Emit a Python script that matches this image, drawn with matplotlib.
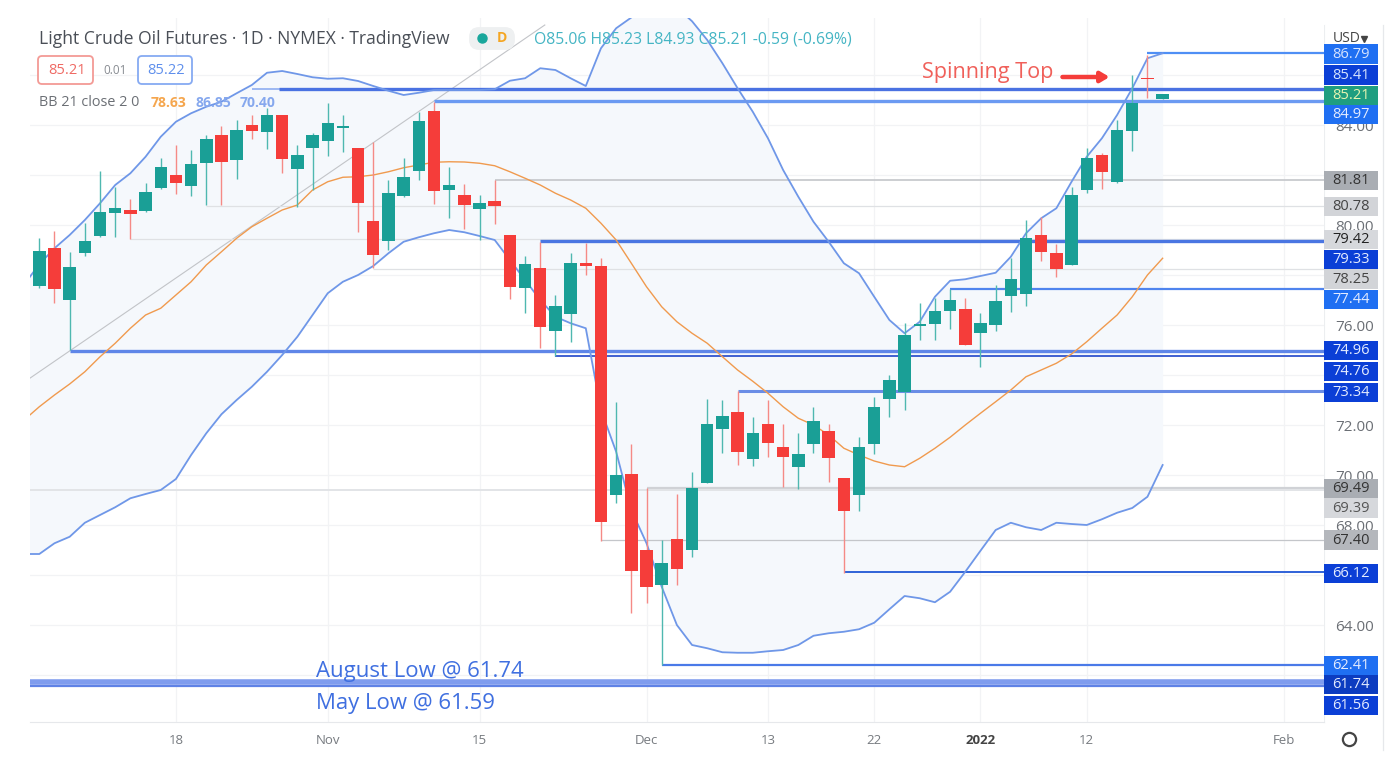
import matplotlib
matplotlib.use("Agg")
import matplotlib.pyplot as plt
from matplotlib.lines import Line2D
from matplotlib.patches import FancyBboxPatch
from matplotlib.transforms import Affine2D

plt.rcParams['font.family'] = ['Open Sans', 'DejaVu Sans']

# candles, one value per session. first one is cut off by the left edge
opens = [75.87, 77.56, 79.07, 77.0, 78.87, 79.57, 80.49, 80.6, 80.57, 81.47, 82.0, 81.57, 82.47, 83.6, 82.61, 84.01, 83.72,
         84.41, 82.25, 83.09, 83.36, 83.87, 83.07, 80.17, 79.36, 81.15, 82.17, 84.56, 81.39, 81.21, 80.65, 80.95,
         79.61, 77.49, 78.27, 75.75, 76.44, 78.47, 78.36, 69.2, 70.03, 66.99, 65.6, 67.45, 67.0,
         69.69, 71.84, 72.51, 70.65, 72.04, 71.11, 70.32, 71.24, 71.76, 69.88, 69.2, 71.24, 73.03, 73.33, 75.96, 76.04,
         76.57, 76.63, 75.67, 76.01, 77.16, 77.23, 79.6, 78.87, 78.41, 81.4, 82.8, 81.72, 83.77, 85.88, 85.03]
closes = [77.6, 78.96, 77.43, 78.33, 79.36, 80.51, 80.67, 80.43, 81.33, 82.31, 81.68, 82.45, 83.45, 82.51, 83.79, 83.77, 84.4,
          82.65, 82.81, 83.6, 84.07, 83.95, 80.89, 78.79, 81.29, 81.92, 84.16, 81.36, 81.59, 80.8, 80.88, 80.76,
          77.53, 78.43, 75.93, 76.76, 78.49, 78.37, 68.13, 70.0, 66.16, 65.53, 66.49, 66.23, 69.47,
          72.04, 72.37, 70.92, 71.67, 71.29, 70.72, 70.85, 72.15, 70.69, 68.57, 71.11, 72.73, 73.8, 75.6, 76.04, 76.57,
          76.99, 75.19, 76.07, 76.97, 77.83, 79.47, 78.91, 78.24, 81.2, 82.67, 82.13, 83.8, 84.87, 85.83, 85.23]
highs = [77.6, 79.47, 79.77, 78.93, 80.07, 82.16, 81.53, 81.03, 81.67, 82.67, 83.2, 83.0, 83.6, 83.96, 84.2, 84.4, 84.67,
         84.41, 83.21, 83.67, 84.89, 84.4, 83.07, 83.33, 81.8, 82.67, 84.53, 84.93, 82.31, 81.63, 81.2, 81.8,
         79.61, 78.77, 79.33, 77.19, 78.87, 79.27, 78.67, 72.92, 71.23, 69.47, 67.4, 69.24, 70.13,
         73.03, 73.0, 73.36, 72.31, 73.0, 72.04, 71.67, 72.73, 72.04, 69.88, 71.53, 73.13, 74.0, 76.07, 76.87, 77.07,
         77.43, 77.07, 76.47, 77.6, 78.67, 80.2, 80.33, 79.24, 81.53, 83.07, 82.87, 84.2, 85.99, 86.8, 85.23]
lows = [75.87, 77.5, 76.89, 75.0, 78.76, 79.53, 79.51, 79.45, 80.53, 81.43, 81.24, 81.16, 80.8, 80.8, 81.83, 83.43, 83.03,
        82.07, 80.73, 81.4, 82.77, 82.93, 79.73, 78.29, 79.0, 81.13, 81.8, 80.84, 80.27, 79.83, 79.4, 80.04,
        77.03, 76.47, 75.07, 74.76, 75.33, 78.0, 67.37, 68.87, 64.47, 64.87, 62.4, 65.61, 66.73,
        69.67, 70.89, 70.4, 70.37, 70.71, 69.51, 69.45, 70.89, 69.73, 66.1, 68.57, 70.84, 72.31, 72.6, 75.4, 75.4,
        75.83, 75.19, 74.31, 75.75, 76.53, 76.76, 78.57, 77.91, 78.39, 81.27, 81.44, 81.69, 82.97, 85.07, 85.03]

# bollinger bands
upper = [77.62, 78.43, 79.07, 79.6, 80.2, 80.87, 81.6, 82.07, 82.73, 83.53, 84.13, 84.47, 84.73, 84.93, 85.27, 85.6, 86.09,
         86.16, 86.04, 85.91, 85.85, 85.87, 85.76, 85.56, 85.37, 85.2, 85.29, 85.4, 85.4, 85.4, 85.4, 85.43,
         85.77, 85.87, 86.27, 86.2, 85.87, 85.56, 87.07, 87.87, 88.3, 88.9, 89.1, 88.7, 88.15,
         87.4, 86.47, 85.47, 84.53, 83.47, 82.2, 81.13, 80.13, 79.33, 78.47, 78.07, 77.13, 76.2, 75.67, 76.13, 77.13,
         77.77, 77.83, 77.96, 78.09, 78.73, 79.67, 80.27, 80.67, 81.73, 82.73, 83.47, 84.4, 85.47, 86.67, 86.87]
basis = [72.2, 72.73, 73.2, 73.64, 74.13, 74.73, 75.27, 75.87, 76.4, 76.67, 77.2, 77.73, 78.4, 78.93, 79.47, 79.93, 80.27,
         80.6, 80.8, 81.4, 81.73, 81.91, 81.93, 82.0, 82.13, 82.29, 82.4, 82.51, 82.53, 82.52, 82.47, 82.37,
         82.13, 81.87, 81.6, 81.27, 81.0, 80.67, 80.07, 79.4, 78.47, 77.53, 76.73, 76.13, 75.67,
         75.27, 74.73, 74.2, 73.75, 73.27, 72.73, 72.27, 72.0, 71.6, 71.07, 70.8, 70.56, 70.4, 70.33, 70.67, 71.07,
         71.51, 72.0, 72.47, 72.93, 73.4, 73.93, 74.2, 74.47, 74.84, 75.33, 75.87, 76.4, 77.13, 78.0, 78.67]
lower = [66.84, 66.84, 67.27, 67.53, 68.09, 68.4, 68.71, 69.07, 69.24, 69.4, 69.84, 70.8, 71.67, 72.43, 73.0, 73.53, 74.13,
         74.8, 75.53, 76.4, 77.27, 77.73, 78.0, 78.36, 78.87, 79.33, 79.51, 79.67, 79.8, 79.71, 79.56, 79.4,
         78.6, 77.8, 77.0, 76.33, 76.07, 75.87, 72.6, 70.93, 68.6, 67.27, 65.53, 64.0, 63.2,
         63.07, 62.91, 62.89, 62.89, 62.95, 63.0, 63.2, 63.57, 63.67, 63.73, 63.83, 64.09, 64.63, 65.16, 65.07, 64.91,
         65.33, 66.13, 66.97, 67.8, 68.09, 67.91, 67.8, 68.09, 68.04, 68.0, 68.23, 68.49, 68.68, 69.13, 70.4]

# horizontal levels
level_start = [73, 14, 15.8, 26, 30, 11, 6, 33, 22, 60, 2, 34, 46, 40, -0.6, 37, 53, 41, -0.6, -0.6]
level_price = [86.88, 85.44, 85.44, 84.98, 81.8, 80.78, 79.44, 79.36, 78.25, 77.44, 74.98, 74.76, 73.36, 69.49, 69.39, 67.4, 66.12, 62.42, 61.74, 61.56]
level_color = ['#4f8ff5', '#9db8f2', '#4a72e2', '#6b9af2', '#c4c6ca', '#dfe1e4', '#dfe1e4', '#4a76e2', '#dfe1e4', '#4f84ee',
               '#5f86e8', '#3f5fd0', '#6a8de6', '#d0d2d6', '#e2e4e7', '#c4c6ca', '#2f62d8', '#4a7ae8', '#7f9cee', '#5f82e6']
level_width = [1.6, 1.4, 2.4, 2.4, 1.2, 0.9, 0.9, 2.4, 0.9, 1.6, 2.4, 1.4, 2.2, 1.6, 1.4, 0.9, 1.4, 1.6, 4.0, 1.6]

trend_x = [-0.6, 33.3]
trend_y = [73.88, 88.0]

# price scale tags
tag_pos = [86.84, 86.0, 85.2, 84.44, 81.8, 80.76, 79.44, 78.64, 77.84, 77.04, 75.0, 74.16, 73.32, 69.48, 68.68, 67.4, 66.08, 62.4, 61.64, 60.8]
tag_text = ['86.79', '85.41', '85.21', '84.97', '81.81', '80.78', '79.42', '79.33', '78.25', '77.44',
            '74.96', '74.76', '73.34', '69.49', '69.39', '67.40', '66.12', '62.41', '61.74', '61.56']
tag_color = ['#1f6ff2', '#0b3fd6', '#1f9e80', '#1f6ff2', '#a9adb3', '#d2d4d8', '#d6d8dc', '#0b3fd6', '#d2d4d8', '#1f6ff2',
             '#0b3fd6', '#0b3fd6', '#0b3fd6', '#a9adb3', '#d6d8dc', '#b4b7bc', '#0b3fd6', '#1f6ff2', '#0c3cc0', '#0b3fd6']
tag_ink = ['#d7e4ff', '#d7e4ff', '#e8f5b0', '#e4ecff', '#333333', '#444444', '#222222', '#e4ecff', '#444444', '#e4ecff',
           '#e4ecff', '#e4ecff', '#e4ecff', '#333333', '#555555', '#333333', '#e4ecff', '#e4ecff', '#e4ecff', '#e4ecff']

price_major = [64, 68, 70, 72, 76, 80, 84]
price_minor = [62, 66, 74, 78, 82, 86]
date_pos = [9, 19, 29, 40, 48, 55, 62, 69, 82]
date_text = ['18', 'Nov', '15', 'Dec', '13', '22', '2022', '12', 'Feb']

W, H = 1396, 760
teal = '#1a9f96'
red = '#f53d3a'

fig = plt.figure(figsize=(W / 100, H / 100), dpi=100, facecolor='white')
ax = fig.add_axes([30 / W, 1 - 722 / H, (1324 - 30) / W, (722 - 18) / H])
ax.set_xlim(-0.613, 84.63)
ax.set_ylim(60.12, 88.28)
for s in ax.spines.values():
    s.set_visible(False)
ax.spines['bottom'].set_visible(True)
ax.spines['bottom'].set_color('#e6e8eb')

idx = list(range(-1, len(opens) - 1))
ax.set_axisbelow(True)
ax.set_xticks(date_pos)
ax.set_xticklabels(date_text, fontsize=9.5, color='#777b80')
ax.get_xticklabels()[6].set_fontweight('bold')
ax.get_xticklabels()[6].set_color('#444444')
ax.tick_params(axis='x', length=0, pad=9)
ax.yaxis.tick_right()
ax.set_yticks(price_major)
ax.set_yticklabels(['%.2f' % p for p in price_major], fontsize=11, color='#6b6f75')
ax.set_yticks(price_minor, minor=True)
ax.tick_params(axis='y', which='both', length=0, pad=8)
ax.grid(True, which='both', color='#f2f3f5', lw=0.9)

# band fill goes under everything else
ax.fill_between(idx, upper, lower, color='#f5f8fc', lw=0, zorder=1)
ax.plot(trend_x, trend_y, color='#c2c4c8', lw=0.8, zorder=2)
ax.hlines(level_price, level_start, 84.63, colors=level_color, linewidths=level_width, zorder=3)
ax.plot(idx, upper, color='#6f97e8', lw=1.3, zorder=4)
ax.plot(idx, lower, color='#6f97e8', lw=1.3, zorder=4)
ax.plot(idx, basis, color='#f09a4e', lw=1.0, zorder=4)

colors = [teal if c >= o else red for o, c in zip(opens, closes)]
wick_colors = ['#4fb8b0' if c >= o else '#f58a86' for o, c in zip(opens, closes)]
ax.vlines(idx, lows, highs, colors=wick_colors, linewidths=1.0, zorder=5)
ax.bar(idx, [abs(c - o) for o, c in zip(opens, closes)], bottom=[min(o, c) for o, c in zip(opens, closes)],
       width=0.82, color=colors, linewidth=0, zorder=6)

ax.text(58.15, 86.1, 'Spinning Top', color='#f0605a', fontsize=15.6, va='center', zorder=8)
ax.annotate('', xy=(70.5, 85.92), xytext=(67.4, 85.92), zorder=8,
            arrowprops=dict(arrowstyle='-|>,head_width=0.3,head_length=0.5', color=red, lw=3.2, shrinkA=0, shrinkB=0))
ax.text(18.2, 62.16, 'August Low @ 61.74', color='#3f6fe0', fontsize=15.9, va='center', zorder=8)
ax.text(18.2, 60.88, 'May Low @ 61.59', color='#3f6fe0', fontsize=15.9, va='center', zorder=8)

# price scale tags sit on their own axes, same price range
ax2 = fig.add_axes([1324 / W, 1 - 722 / H, 54 / W, (722 - 18) / H], sharey=ax)
ax2.patch.set_alpha(0)
ax2.set_xlim(0, 1)
ax2.axis('off')
ax2.barh(tag_pos, [1] * len(tag_pos), height=0.76, color=tag_color, linewidth=0)
for p, t, k in zip(tag_pos, tag_text, tag_ink):
    ax2.text(0.5, p, t, color=k, fontsize=10.5, ha='center', va='center')

pixels = Affine2D().scale(1 / W, 1 / H) + fig.transFigure


def label(x, y, s, **kw):
    fig.text(x / W, 1 - y / H, s, va='center', zorder=10, **kw)


def box(x0, y0, x1, y1, fc, ec, r=4):
    p = FancyBboxPatch((x0, H - y1), x1 - x0, y1 - y0, boxstyle='round,pad=0,rounding_size=%d' % r,
                       fc=fc, ec=ec, lw=1.3, transform=pixels, zorder=9)
    fig.add_artist(p)


def mark(x, y, **kw):
    fig.add_artist(Line2D([x], [H - y], transform=pixels, zorder=10, **kw))


label(39, 39, 'Light Crude Oil Futures · 1D · NYMEX · TradingView', fontsize=12.65, color='#4a4f57')
box(470, 28, 514, 49, '#eef0f1', '#eef0f1', 9)
mark(482, 38, marker='o', ms=6.5, mfc='#19a79c', mec='#19a79c')
label(497, 38, 'D', fontsize=10, color='#f5a623', fontweight='bold')
label(534, 39, 'O85.06 H85.23 L84.93 C85.21 -0.59 (-0.69%)', fontsize=11.3, color='#45b5c4')

box(38, 56, 93, 84, 'white', '#f39a95')
label(48, 70, '85.21', fontsize=10.5, color='#ef6a64')
label(103, 70, '0.01', fontsize=8.5, color='#888c92')
box(138, 56, 192, 84, 'white', '#86aaf2')
label(147, 70, '85.22', fontsize=10.5, color='#5f8fec')

label(39, 103, 'BB 21 close 2 0', fontsize=10.4, color='#6b6f75')
label(151, 103, '78.63', fontsize=10, color='#f5a64e', fontweight='bold')
label(195, 103, '86.85', fontsize=10, color='#86a8ee', fontweight='bold')
label(240, 103, '70.40', fontsize=10, color='#86a8ee', fontweight='bold')

label(1333, 38, 'USD', fontsize=10, color='#444444')
mark(1364, 39, marker='v', ms=4, mfc='#444444', mec='#444444')
mark(1349, 739, marker='o', ms=9.5, mfc='none', mec='#444444', mew=1.6)

# scale borders
fig.add_artist(Line2D([1324, 1324], [H - 722, H - 25], transform=pixels, color='#eceef0', lw=0.8, zorder=0))
fig.add_artist(Line2D([1383, 1383], [H - 750, H - 25], transform=pixels, color='#e6e8eb', lw=0.9, zorder=0))

fig.savefig('out.png', dpi=100)
